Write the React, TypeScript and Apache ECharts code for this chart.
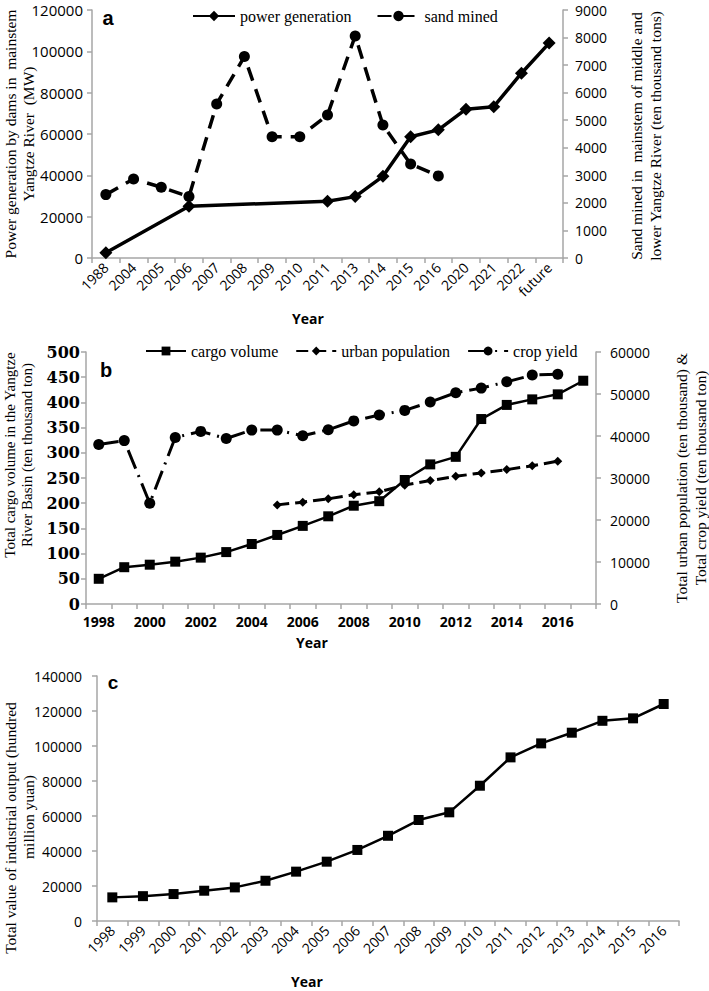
import React, { useEffect, useRef } from "react";
import * as echarts from "echarts";

const aCats = ["1988", "2004", "2005", "2006", "2007", "2008", "2009", "2010", "2011", "2013", "2014", "2015", "2016", "2020", "2021", "2022", "future"];
const aPower = [2500, null, null, 25000, null, null, null, null, 27500, 29700, 39500, 58700, 62000, 72000, 73200, 89400, 104000];
const aSand = [2300, 2870, 2570, 2230, 5590, 7310, 4400, 4400, 5190, 8060, 4830, 3410, 2980, null, null, null, null];

const bCats = ["1998", "1999", "2000", "2001", "2002", "2003", "2004", "2005", "2006", "2007", "2008", "2009", "2010", "2011", "2012", "2013", "2014", "2015", "2016", "2017"];
const bCargo = [50, 73, 78, 84, 92, 103, 119, 137, 155, 174, 195, 204, 246, 277, 292, 367, 395, 406, 416, 443];
const bUrban = [null, null, null, null, null, null, null, 23600, 24250, 25050, 26000, 26700, 28300, 29400, 30400, 31200, 32000, 32900, 34000, null];
const bCrop = [38000, 38900, 24000, 39650, 41100, 39400, 41400, 41400, 40050, 41500, 43600, 45000, 46100, 48100, 50300, 51400, 52900, 54500, 54700, null];

const cCats = ["1998", "1999", "2000", "2001", "2002", "2003", "2004", "2005", "2006", "2007", "2008", "2009", "2010", "2011", "2012", "2013", "2014", "2015", "2016"];
const cValues = [13500, 14200, 15400, 17300, 19200, 23000, 28200, 33900, 40600, 48700, 57700, 62100, 77300, 93500, 101500, 107600, 114400, 115800, 124000];

const SANS = '"Open Sans", sans-serif';
const SERIF = '"Liberation Serif", serif';
const AXIS_GRAY = "#a6a6a6";
const plain = (v: number) => String(v);

function axisBase() {
  return {
    axisLine: { show: true, lineStyle: { color: AXIS_GRAY, width: 1.5 } },
    axisTick: { show: true, inside: false, length: 5, lineStyle: { color: AXIS_GRAY, width: 1.5 } },
    splitLine: { show: false },
  };
}

export default function App() {
  const ref = useRef<HTMLDivElement>(null);
  useEffect(() => {
    if (!ref.current) return;
    const chart = echarts.init(ref.current, null, { renderer: "svg" });
    const vtext = (x: number, y: number, text: string, size: number) => ({
      type: "text",
      x,
      y,
      rotation: Math.PI / 2,
      style: {
        text,
        fontSize: size,
        fontFamily: SERIF,
        fill: "#000",
        textAlign: "center",
        textVerticalAlign: "middle",
      },
    });
    const htext = (x: number, y: number, text: string, size: number, family: string) => ({
      type: "text",
      x,
      y,
      style: {
        text,
        fontSize: size,
        fontFamily: family,
        fontWeight: "bold",
        fill: "#000",
        textAlign: "center",
        textVerticalAlign: "middle",
      },
    });
    const option: any = {
      animation: false,
      backgroundColor: "#fff",
      grid: [
        { left: 92, top: 10, width: 471, height: 248 },
        { left: 86, top: 352, width: 510, height: 252 },
        { left: 97, top: 676, width: 582, height: 245 },
      ],
      legend: [
        {
          left: 187,
          top: 3,
          itemWidth: 42,
          itemHeight: 13,
          itemGap: 25,
          data: ["power generation", "sand mined"],
          textStyle: { fontFamily: SERIF, fontSize: 16, color: "#000" },
        },
        {
          left: 140,
          top: 338,
          itemWidth: 40,
          itemHeight: 11,
          itemGap: 17,
          data: ["cargo volume", "urban population", "crop yield"],
          textStyle: { fontFamily: SERIF, fontSize: 16, color: "#000" },
        },
      ],
      xAxis: [
        {
          ...axisBase(),
          type: "category",
          gridIndex: 0,
          data: aCats,
          boundaryGap: true,
          axisTick: { ...axisBase().axisTick, interval: 0 },
          axisLabel: { interval: 0, rotate: 45, margin: 7, fontFamily: SANS, fontSize: 14, color: "#000" },
        },
        {
          ...axisBase(),
          type: "category",
          gridIndex: 1,
          data: bCats,
          boundaryGap: true,
          axisTick: { ...axisBase().axisTick, interval: 0 },
          axisLabel: { interval: 1, margin: 10, fontFamily: SANS, fontWeight: "bold", fontSize: 14, color: "#000" },
        },
        {
          ...axisBase(),
          type: "category",
          gridIndex: 2,
          data: cCats,
          boundaryGap: true,
          axisTick: { ...axisBase().axisTick, interval: 0 },
          axisLabel: { interval: 0, rotate: 45, margin: 7, fontFamily: SANS, fontSize: 14, color: "#000" },
        },
      ],
      yAxis: [
        {
          ...axisBase(),
          type: "value",
          gridIndex: 0,
          min: 0,
          max: 120000,
          interval: 20000,
          position: "left",
          axisLabel: { margin: 9, fontFamily: SANS, fontSize: 15, color: "#000", formatter: plain },
        },
        {
          ...axisBase(),
          type: "value",
          gridIndex: 0,
          min: 0,
          max: 9000,
          interval: 1000,
          position: "right",
          axisLabel: { margin: 12, fontFamily: SANS, fontSize: 14, color: "#000", formatter: plain },
        },
        {
          ...axisBase(),
          type: "value",
          gridIndex: 1,
          min: 0,
          max: 500,
          interval: 50,
          position: "left",
          axisLabel: { margin: 6, fontFamily: '"DejaVu Serif", serif', fontWeight: "bold", fontSize: 16, color: "#000", formatter: plain },
        },
        {
          ...axisBase(),
          type: "value",
          gridIndex: 1,
          min: 0,
          max: 60000,
          interval: 10000,
          position: "right",
          axisLabel: { margin: 14, fontFamily: SANS, fontSize: 14, color: "#000", formatter: plain },
        },
        {
          ...axisBase(),
          type: "value",
          gridIndex: 2,
          min: 0,
          max: 140000,
          interval: 20000,
          position: "left",
          axisLabel: { margin: 15, fontFamily: SANS, fontSize: 14, color: "#000", formatter: plain },
        },
      ],
      series: [
        {
          name: "power generation",
          type: "line",
          xAxisIndex: 0,
          yAxisIndex: 0,
          data: aPower,
          connectNulls: true,
          symbol: "diamond",
          symbolSize: 13,
          itemStyle: { color: "#000" },
          lineStyle: { color: "#000", width: 3.5 },
        },
        {
          name: "sand mined",
          type: "line",
          xAxisIndex: 0,
          yAxisIndex: 1,
          data: aSand,
          symbol: "circle",
          symbolSize: 11,
          itemStyle: { color: "#000" },
          lineStyle: { color: "#000", width: 3.5, type: [14, 9] },
        },
        {
          name: "cargo volume",
          type: "line",
          xAxisIndex: 1,
          yAxisIndex: 2,
          data: bCargo,
          symbol: "rect",
          symbolSize: 10,
          itemStyle: { color: "#000" },
          lineStyle: { color: "#000", width: 2.5 },
        },
        {
          name: "urban population",
          type: "line",
          xAxisIndex: 1,
          yAxisIndex: 3,
          data: bUrban,
          symbol: "diamond",
          symbolSize: 9,
          itemStyle: { color: "#000" },
          lineStyle: { color: "#000", width: 3, type: [12, 6] },
        },
        {
          name: "crop yield",
          type: "line",
          xAxisIndex: 1,
          yAxisIndex: 3,
          data: bCrop,
          symbol: "circle",
          symbolSize: 11,
          itemStyle: { color: "#000" },
          lineStyle: { color: "#000", width: 3, type: [20, 7, 2, 7] },
        },
        {
          name: "industrial output",
          type: "line",
          xAxisIndex: 2,
          yAxisIndex: 4,
          data: cValues,
          symbol: "rect",
          symbolSize: 10,
          itemStyle: { color: "#000" },
          lineStyle: { color: "#000", width: 2.5 },
        },
      ],
      graphic: [
        htext(108, 18, "a", 20, '"Liberation Sans", sans-serif'),
        htext(106, 370, "b", 20, '"Liberation Sans", sans-serif'),
        htext(113, 682, "c", 19, '"Liberation Sans", sans-serif'),
        htext(308, 318, "Year", 14, SANS),
        htext(312, 642, "Year", 14, SANS),
        htext(307, 981, "Year", 14, SANS),
        vtext(10, 134, "Power generation by dams in  mainstem", 15.5),
        vtext(28, 134, "Yangtze River  (MW)", 15.5),
        vtext(636, 136, "Sand mined in  mainstem of middle and", 15.5),
        vtext(655, 136, "lower Yangtze River (ten thousand tons)", 15.5),
        vtext(10, 455, "Total cargo volume in the Yangtze", 15),
        vtext(27, 455, "River Basin (ten thousand ton)", 15),
        vtext(681, 478, "Total urban population (ten thousand) &", 15.5),
        vtext(700, 478, "Total crop yield (ten thousand ton)", 15.5),
        vtext(10, 828, "Total value of industrial output (hundred", 15.5),
        vtext(28, 817, "million yuan)", 15.5),
      ],
    };
    chart.setOption(option);
    return () => chart.dispose();
  }, []);
  return (
    <div
      ref={ref}
      style={{ position: "absolute", left: 0, top: 0, width: 709, height: 991, background: "#fff" }}
    />
  );
}
